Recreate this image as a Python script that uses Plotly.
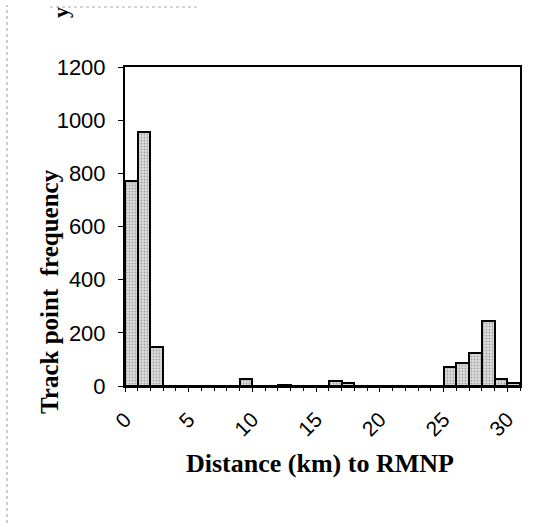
import plotly.graph_objects as go

bin_start = list(range(0, 31))
frequency = [770, 955, 145, 0, 0, 0, 0, 0, 0, 28, 0, 0, 5, 0, 0, 0, 18, 10,
             0, 0, 0, 0, 0, 0, 0, 70, 88, 123, 245, 27, 10]
x_ticks = [0, 5, 10, 15, 20, 25, 30]
y_ticks = [0, 200, 400, 600, 800, 1000, 1200]

fig = go.Figure()
fig.add_trace(go.Bar(
    x=[b + 0.5 for b in bin_start],
    y=frequency,
    width=1.0,
    marker=dict(
        color="#d4d4d4",
        line=dict(color="black", width=2),
        pattern=dict(shape=".", fgcolor="#6a6a6a", bgcolor="#dcdcdc", size=3, solidity=0.3),
    ),
    showlegend=False,
))

fig.update_layout(
    width=535, height=523,
    margin=dict(l=125, r=15, t=67, b=137),
    plot_bgcolor="white", paper_bgcolor="white",
    bargap=0,
    font=dict(family="Liberation Sans, Arial", color="black"),
    xaxis=dict(
        range=[0, 31], tickmode="array", tickvals=x_ticks,
        ticktext=[str(v) for v in x_ticks], tickangle=-45,
        tickfont=dict(size=21, family="Liberation Sans, Arial"),
        ticks="outside", ticklen=4, tickcolor="black", ticklabelstandoff=7,
        minor=dict(tickmode="linear", dtick=1, ticks="outside", ticklen=3, tickcolor="black"),
        showline=True, linecolor="black", linewidth=2, mirror=True,
        showgrid=False, zeroline=False,
    ),
    yaxis=dict(
        range=[0, 1200], tickmode="array", tickvals=y_ticks,
        tickfont=dict(size=22, family="Liberation Sans, Arial"),
        ticks="outside", ticklen=5, tickcolor="black", ticklabelstandoff=8,
        showline=True, linecolor="black", linewidth=2, mirror=True,
        showgrid=False, zeroline=False,
    ),
)

# axis titles placed as annotations to match the reference's positions
fig.add_annotation(xref="paper", yref="paper", x=(320 - 125) / 395, y=(386 - 463) / 319,
                   text="<b>Distance (km) to RMNP</b>", showarrow=False,
                   xanchor="center", yanchor="middle",
                   font=dict(family="Liberation Serif, Times New Roman", size=26, color="black"))
fig.add_annotation(xref="paper", yref="paper", x=(49 - 125) / 395, y=(386 - 292) / 319,
                   text="<b>Track point  frequency</b>", showarrow=False, textangle=-90,
                   xanchor="center", yanchor="middle",
                   font=dict(family="Liberation Serif, Times New Roman", size=25, color="black"))

fig.add_annotation(xref="paper", yref="paper", x=(60 - 125) / 395, y=(386 - 13) / 319, text="<b>y</b>",
                   textangle=-90, showarrow=False, xanchor="center", yanchor="middle",
                   font=dict(family="Liberation Serif", size=22, color="black"))
fig.add_shape(type="line", xref="paper", yref="paper", x0=(7 - 125) / 395, x1=(7 - 125) / 395,
              y0=(386 - 523) / 319, y1=(386 - 5) / 319,
              line=dict(color="#999", width=1, dash="dot"))
fig.add_shape(type="line", xref="paper", yref="paper", x0=(50 - 125) / 395, x1=(200 - 125) / 395,
              y0=(386 - 7) / 319, y1=(386 - 7) / 319,
              line=dict(color="#aaa", width=1, dash="dot"))

fig.write_html("out.html")
